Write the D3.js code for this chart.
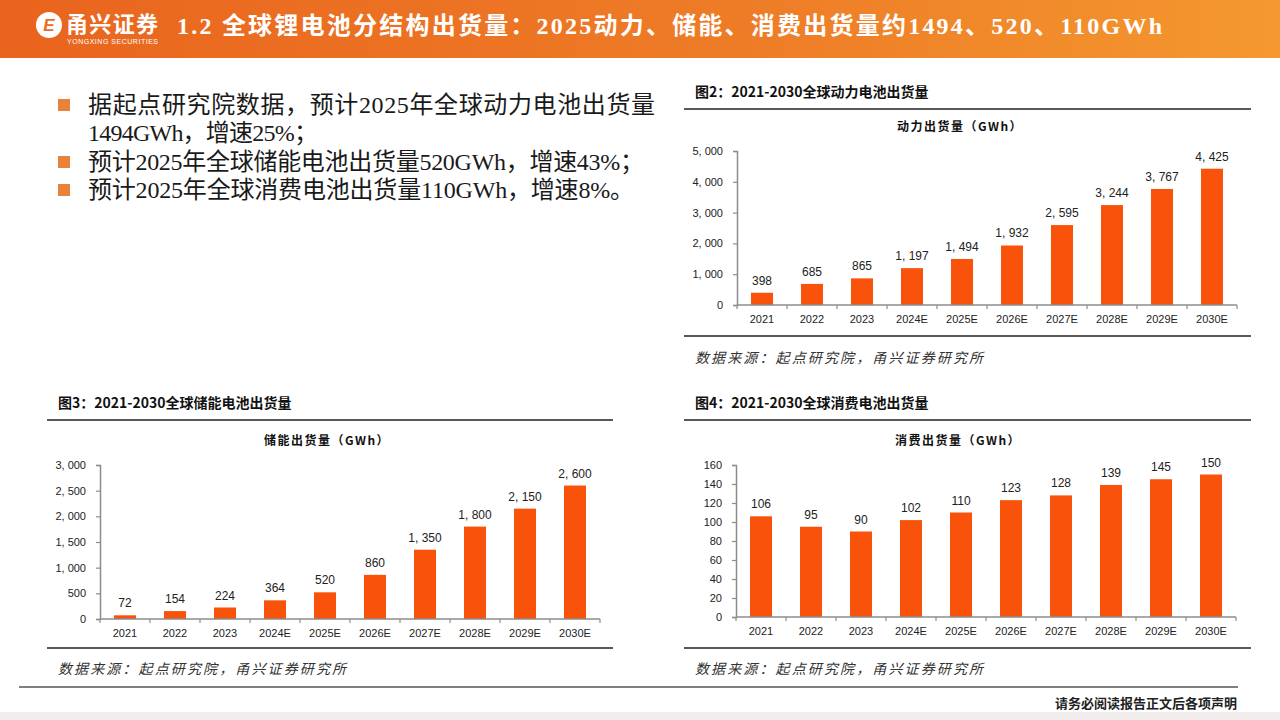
<!DOCTYPE html>
<html><head><meta charset="utf-8">
<script src="https://cdn.jsdelivr.net/npm/d3@7"></script>
<style>
html,body{margin:0;padding:0;background:#fff;}
svg{display:block;}
</style></head>
<body>
<svg id="chart" width="1280" height="720"></svg>
<script>
// ---------- DATA ----------
const categories = ["2021","2022","2023","2024E","2025E","2026E","2027E","2028E","2029E","2030E"];
const powerValues = [398, 685, 865, 1197, 1494, 1932, 2595, 3244, 3767, 4425];
const storageValues = [72, 154, 224, 364, 520, 860, 1350, 1800, 2150, 2600];
const consumerValues = [106, 95, 90, 102, 110, 123, 128, 139, 145, 150];
const powerTicks = [0, 1000, 2000, 3000, 4000, 5000];
const storageTicks = [0, 500, 1000, 1500, 2000, 2500, 3000];
const consumerTicks = [0, 20, 40, 60, 80, 100, 120, 140, 160];

const pageTitle = "1.2 全球锂电池分结构出货量：2025动力、储能、消费出货量约1494、520、110GWh";
const bullets = [
  ["据起点研究院数据，预计2025年全球动力电池出货量", "1494GWh，增速25%；"],
  ["预计2025年全球储能电池出货量520GWh，增速43%；"],
  ["预计2025年全球消费电池出货量110GWh，增速8%。"]
];
const sourceText = "数据来源：起点研究院，甬兴证券研究所";
const footerText = "请务必阅读报告正文后各项声明";

// ---------- STYLE ----------
const BAR = "#F9520B";
const AXIS = "#8c8c8c";
const SANS = "'Liberation Sans','Noto Sans CJK SC',sans-serif";
const CJK = "'Noto Sans CJK SC',sans-serif";
const SERIF = "'Liberation Serif','Noto Sans CJK SC',serif";

const svg = d3.select("#chart");

// ---------- HEADER ----------
const defs = svg.append("defs");
const grad = defs.append("linearGradient").attr("id","hdr").attr("x1","0").attr("x2","1").attr("y1","0").attr("y2","0");
grad.append("stop").attr("offset","0").attr("stop-color","#E9641E");
grad.append("stop").attr("offset","0.6").attr("stop-color","#EE7D27");
grad.append("stop").attr("offset","1").attr("stop-color","#F4982F");
svg.append("rect").attr("x",0).attr("y",0).attr("width",1280).attr("height",58).attr("fill","url(#hdr)");

// logo
const logo = svg.append("g");
logo.append("circle").attr("cx",49).attr("cy",25).attr("r",13).attr("fill","#fff");
logo.append("text").attr("x",49).attr("y",31).attr("text-anchor","middle")
  .attr("font-family",SANS).attr("font-weight","bold").attr("font-size",17).attr("fill","#EC6C22").attr("font-style","italic").text("E");
logo.append("text").attr("x",66).attr("y",32).attr("font-family",CJK).attr("font-weight","bold")
  .attr("font-size",22).attr("fill","#fff").attr("textLength",92).text("甬兴证券");
logo.append("text").attr("x",67).attr("y",44).attr("font-family",SANS)
  .attr("font-size",7).attr("fill","#fff").attr("textLength",91).text("YONGXING SECURITIES");

svg.append("text").attr("x",177).attr("y",34).attr("font-family",SERIF).attr("font-weight","bold")
  .attr("font-size",24).attr("fill","#fff").attr("textLength",985).text(pageTitle);

// ---------- BULLETS ----------
const lineYs = [[105,133],[162],[190]];
const lineLens = [[567,230],[556],[546]];
bullets.forEach((b,i)=>{
  svg.append("rect").attr("x",58).attr("y",lineYs[i][0]-6).attr("width",12).attr("height",12).attr("fill","#E8833A");
  b.forEach((t,j)=>{
    svg.append("text").attr("x",88).attr("y",lineYs[i][j]+8).attr("font-family",SERIF)
      .attr("font-size",24).attr("fill","#1a1a1a").attr("textLength",lineLens[i][j]).text(t);
  });
});

// ---------- FRAMES / TITLES ----------
function panelFrame(x0, x1, titleX, titleY, title, topLineY, botLineY, srcY){
  svg.append("text").attr("x",titleX).attr("y",titleY).attr("font-family",CJK).attr("font-weight","bold")
    .attr("font-size",14).attr("fill","#111").text(title);
  svg.append("line").attr("x1",x0).attr("x2",x1).attr("y1",topLineY).attr("y2",topLineY).attr("stroke","#222").attr("stroke-width",1.5);
  svg.append("line").attr("x1",x0).attr("x2",x1).attr("y1",botLineY).attr("y2",botLineY).attr("stroke","#222").attr("stroke-width",1.5);
  svg.append("text").attr("x",titleX).attr("y",srcY).attr("font-family",CJK).attr("font-style","italic")
    .attr("font-size",14).attr("fill","#333").attr("textLength",288).text(sourceText);
}
panelFrame(684, 1251, 695, 97, "图2：2021-2030全球动力电池出货量", 109, 336, 363);
panelFrame(47, 613, 58, 408, "图3：2021-2030全球储能电池出货量", 420, 648, 674);
panelFrame(684, 1251, 695, 408, "图4：2021-2030全球消费电池出货量", 420, 648, 674);

// ---------- BAR CHARTS ----------
const fmt = v => d3.format(",")(v).replace(",", ", ");
function barChart(opt){
  const x = d3.scaleBand().domain(categories).range([opt.x0, opt.x1]).paddingInner(0.56).paddingOuter(0.28);
  const y = d3.scaleLinear().domain([0, opt.max]).range([opt.yb, opt.yt]);
  const g = svg.append("g");
  g.append("text").attr("x",opt.subX).attr("y",opt.yt-20).attr("text-anchor","middle")
    .attr("font-family",CJK).attr("font-weight","bold").attr("font-size",12).attr("letter-spacing",1.5)
    .attr("fill","#111").text(opt.subtitle);
  g.selectAll("rect.bar").data(opt.values).join("rect").attr("class","bar")
    .attr("x",(d,i)=>x(categories[i])).attr("width",x.bandwidth())
    .attr("y",d=>y(d)).attr("height",d=>y(0)-y(d)).attr("fill",BAR);
  g.selectAll("text.lbl").data(opt.values).join("text").attr("class","lbl")
    .attr("x",(d,i)=>x(categories[i])+x.bandwidth()/2).attr("y",d=>y(d)-8)
    .attr("text-anchor","middle").attr("font-family",SANS).attr("font-size",12).attr("fill","#222")
    .text(opt.labelFmt);
  const ya = d3.axisLeft(y).tickValues(opt.ticks).tickSize(4).tickPadding(10).tickFormat(opt.tickFmt);
  const yg = g.append("g").attr("transform",`translate(${opt.x0},0)`).call(ya);
  const xg = g.append("g").attr("transform",`translate(0,${opt.yb})`);
  xg.append("line").attr("x1",opt.x0).attr("x2",opt.x1).attr("stroke",AXIS).attr("stroke-width",1.5);
  const edges = categories.map(c=>x(c)-x.step()*x.paddingInner()/2).concat([opt.x1]);
  edges[0] = opt.x0;
  xg.selectAll("line.tk").data(edges).join("line").attr("class","tk")
    .attr("x1",d=>d).attr("x2",d=>d).attr("y1",0).attr("y2",4).attr("stroke",AXIS).attr("stroke-width",1.2);
  xg.selectAll("text").data(categories).join("text")
    .attr("x",c=>x(c)+x.bandwidth()/2).attr("y",18).attr("text-anchor","middle")
    .attr("font-family",SANS).attr("font-size",11).attr("fill","#222").text(c=>c);
  yg.select(".domain").attr("stroke",AXIS).attr("stroke-width",1.5);
  yg.selectAll(".tick line").attr("stroke",AXIS).attr("stroke-width",1.2);
  yg.selectAll(".tick text").attr("font-family",SANS).attr("font-size",11).attr("fill","#222");
}
barChart({x0:737, x1:1237, yb:305, yt:151, max:5000, values:powerValues, ticks:powerTicks,
  subtitle:"动力出货量（GWh）", subX:960, tickFmt:fmt, labelFmt:fmt});
barChart({x0:100, x1:600, yb:619, yt:465, max:3000, values:storageValues, ticks:storageTicks,
  subtitle:"储能出货量（GWh）", subX:327, tickFmt:fmt, labelFmt:fmt});
barChart({x0:736, x1:1236, yb:617, yt:465, max:160, values:consumerValues, ticks:consumerTicks,
  subtitle:"消费出货量（GWh）", subX:958, tickFmt:d3.format("d"), labelFmt:d3.format("d")});

// ---------- FOOTER ----------
svg.append("line").attr("x1",19).attr("x2",1238).attr("y1",687).attr("y2",687).attr("stroke","#555").attr("stroke-width",1.5);
svg.append("text").attr("x",1237).attr("y",708).attr("text-anchor","end").attr("font-family",CJK)
  .attr("font-weight","bold").attr("font-size",13).attr("fill","#222").text(footerText);
svg.append("rect").attr("x",0).attr("y",712).attr("width",1280).attr("height",8).attr("fill","#F1EDEC");
</script>
</body></html>
